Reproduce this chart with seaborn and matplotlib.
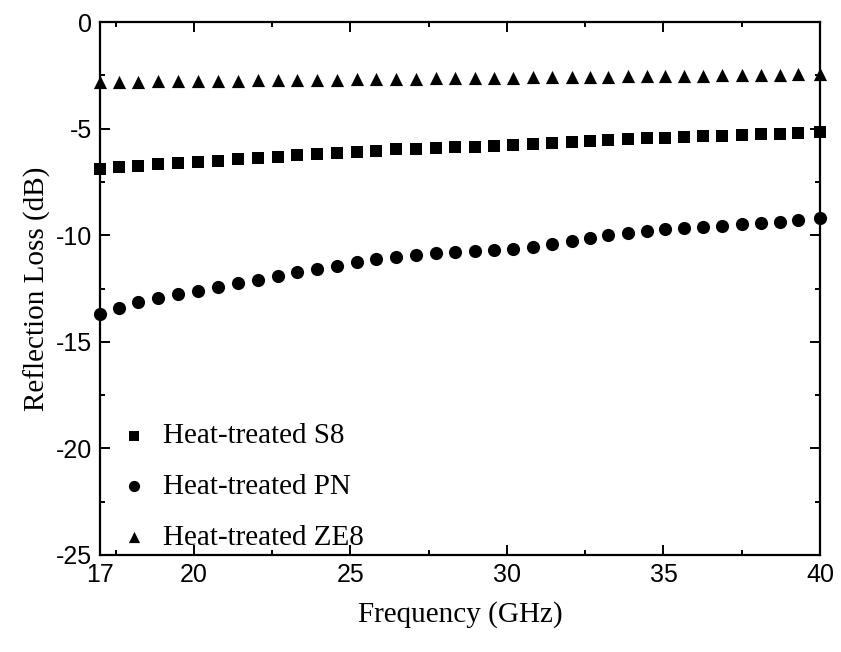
import matplotlib
matplotlib.use("Agg")
import matplotlib.pyplot as plt
import seaborn as sns
import pandas as pd
from matplotlib.ticker import FixedLocator

# ---- data ----
freq = [17.00, 17.61, 18.21, 18.85, 19.49, 20.13, 20.77, 21.41, 22.05, 22.69,
        23.29, 23.93, 24.57, 25.21, 25.82, 26.46, 27.10, 27.73, 28.34, 28.98,
        29.59, 30.19, 30.83, 31.44, 32.08, 32.65, 33.23, 33.87, 34.48, 35.05,
        35.66, 36.27, 36.87, 37.51, 38.12, 38.73, 39.30, 40.00]

s8 = [-6.91, -6.82, -6.75, -6.68, -6.61, -6.55, -6.50, -6.44, -6.40, -6.32,
      -6.25, -6.21, -6.16, -6.08, -6.04, -5.97, -5.94, -5.91, -5.88, -5.85,
      -5.80, -5.79, -5.74, -5.69, -5.63, -5.57, -5.53, -5.50, -5.46, -5.43,
      -5.38, -5.36, -5.33, -5.30, -5.27, -5.24, -5.19, -5.16]

pn = [-13.70, -13.40, -13.15, -12.96, -12.77, -12.60, -12.43, -12.26, -12.09, -11.91,
      -11.74, -11.59, -11.43, -11.26, -11.13, -11.04, -10.94, -10.85, -10.79, -10.74,
      -10.69, -10.65, -10.57, -10.41, -10.26, -10.12, -9.99, -9.88, -9.79, -9.72,
      -9.68, -9.63, -9.57, -9.47, -9.41, -9.37, -9.29, -9.21]

ze8 = [-2.82, -2.81, -2.80, -2.79, -2.78, -2.77, -2.76, -2.75, -2.74, -2.73,
       -2.72, -2.71, -2.70, -2.69, -2.68, -2.67, -2.66, -2.65, -2.64, -2.63,
       -2.62, -2.61, -2.60, -2.59, -2.58, -2.57, -2.56, -2.55, -2.54, -2.53,
       -2.52, -2.51, -2.50, -2.49, -2.48, -2.47, -2.46, -2.45]

series_names = ["Heat-treated S8", "Heat-treated PN", "Heat-treated ZE8"]
x_ticks = [17, 20, 25, 30, 35, 40]
y_ticks = [0, -5, -10, -15, -20, -25]

df = pd.concat([
    pd.DataFrame({"Frequency": freq, "RL": vals, "Sample": name})
    for name, vals in zip(series_names, [s8, pn, ze8])
], ignore_index=True)

# ---- style ----
sns.set_theme(style="ticks")
plt.rcParams["font.family"] = ["Liberation Sans", "DejaVu Sans"]
plt.rcParams["axes.unicode_minus"] = False
plt.rcParams["text.color"] = "black"
plt.rcParams["axes.labelcolor"] = "black"
plt.rcParams["xtick.color"] = "black"
plt.rcParams["ytick.color"] = "black"

fig = plt.figure(figsize=(8.41, 6.52), dpi=100)
ax = fig.add_axes([100 / 841, 1 - 555 / 652, 720 / 841, 533 / 652])

markers = {series_names[0]: "s", series_names[1]: "o", series_names[2]: "^"}
sizes_pt2 = {series_names[0]: 72, series_names[1]: 90, series_names[2]: 90}

for name in series_names:
    sns.scatterplot(data=df[df["Sample"] == name], x="Frequency", y="RL",
                    marker=markers[name], s=sizes_pt2[name], color="black",
                    linewidth=0, ax=ax, label=name, clip_on=False, zorder=3)

ax.set_xlim(17, 40)
ax.set_ylim(-25, 0)
ax.xaxis.set_major_locator(FixedLocator(x_ticks))
ax.yaxis.set_major_locator(FixedLocator(y_ticks))
ax.xaxis.set_minor_locator(FixedLocator([17.5, 22.5, 27.5, 32.5, 37.5]))
ax.yaxis.set_minor_locator(FixedLocator([-2.5, -7.5, -12.5, -17.5, -22.5]))
ax.set_xticklabels([str(v) for v in x_ticks])
ax.set_yticklabels([str(v) for v in y_ticks])

ax.tick_params(which="both", direction="in", top=True, right=True, colors="black",
               width=1.4)
ax.tick_params(which="major", length=7, labelsize=18, pad=6)
ax.tick_params(which="minor", length=3.5)
for sp in ax.spines.values():
    sp.set_linewidth(1.6)
    sp.set_color("black")

serif = ["Liberation Serif", "DejaVu Serif"]
ax.set_xlabel("Frequency (GHz)", fontsize=21, family=serif, labelpad=10, color="black")
ax.set_ylabel("Reflection Loss (dB)", fontsize=21, family=serif, labelpad=3, color="black")

handles, labels = ax.get_legend_handles_labels()
leg = ax.legend(handles, labels, loc="lower left", frameon=False,
                prop={"family": serif, "size": 21}, handletextpad=0.35,
                labelspacing=0.83, borderaxespad=0.0, borderpad=0.15,
                bbox_to_anchor=(0.015, 0.0), handlelength=1.3, markerscale=0.85)
for t in leg.get_texts():
    t.set_color("black")

fig.savefig("out.png", dpi=100)
